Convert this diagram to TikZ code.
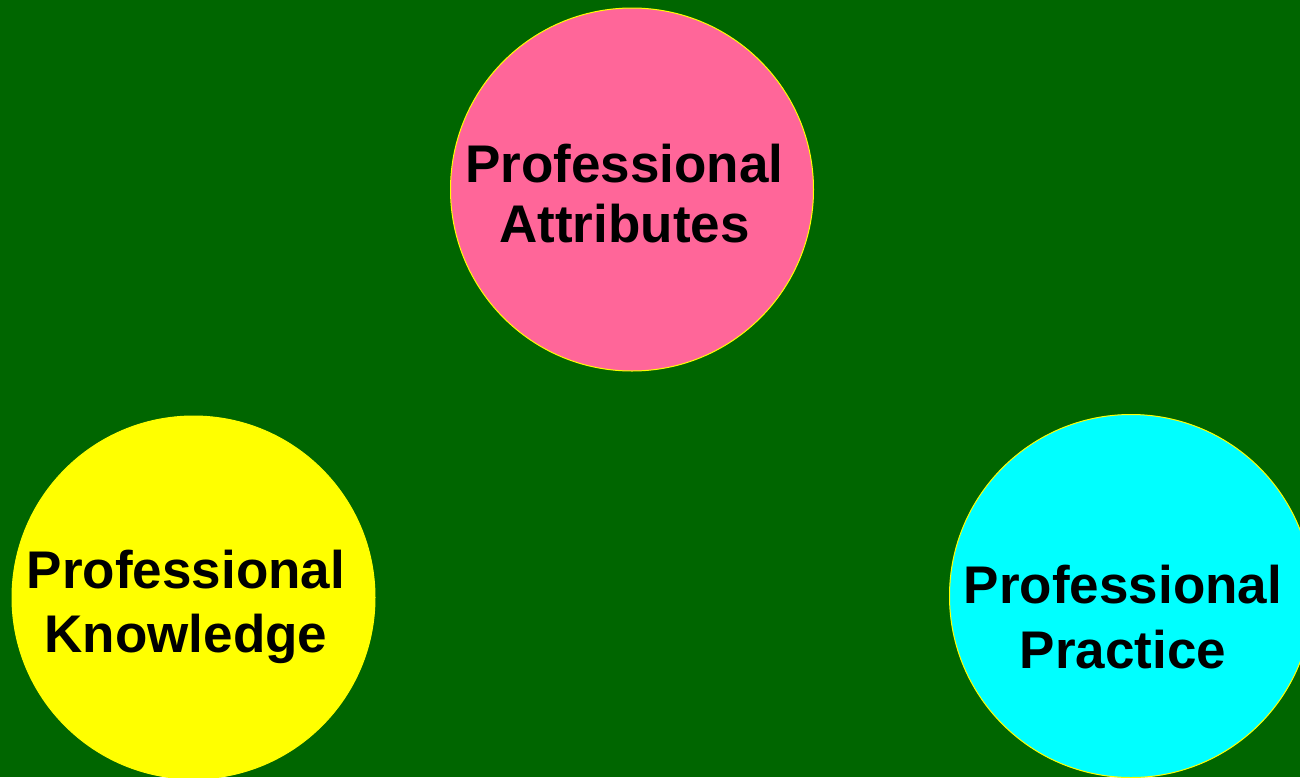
\documentclass[tikz,border=0pt]{standalone}
\usepackage{fontspec}
\setmainfont{Liberation Sans}
\definecolor{bggreen}{HTML}{006600}
\definecolor{pinkfill}{HTML}{FF6699}
\definecolor{yellowfill}{HTML}{FFFF00}
\definecolor{cyanfill}{HTML}{00FFFF}
\tikzset{
  bubble/.style={circle, draw=yellowfill, line width=1pt, minimum size=363pt, inner sep=0pt},
  label text/.style={anchor=base, align=center, inner sep=0pt, text=black, font=\bfseries\fontsize{53}{#1}\selectfont},
}
\begin{document}
\begin{tikzpicture}[x=1pt, y=-1pt]
  \fill[bggreen] (0,0) rectangle (1300,777);
  \useasboundingbox (0,0) rectangle (1300,777);
  \node[bubble, fill=pinkfill] (attr) at (632,189.5) {};
  \node[bubble, fill=yellowfill] (know) at (193.5,597.5) {};
  \node[bubble, fill=cyanfill] (prac) at (1131,596) {};
  \node[label text=60] (attrtext) at (624.5,242) {Professional\\Attributes};
  \node[label text=64] (knowtext) at (186,652) {Professional\\Knowledge};
  \node[label text=65] (practext) at (1123,668) {Professional\\Practice};
\end{tikzpicture}
\end{document}
